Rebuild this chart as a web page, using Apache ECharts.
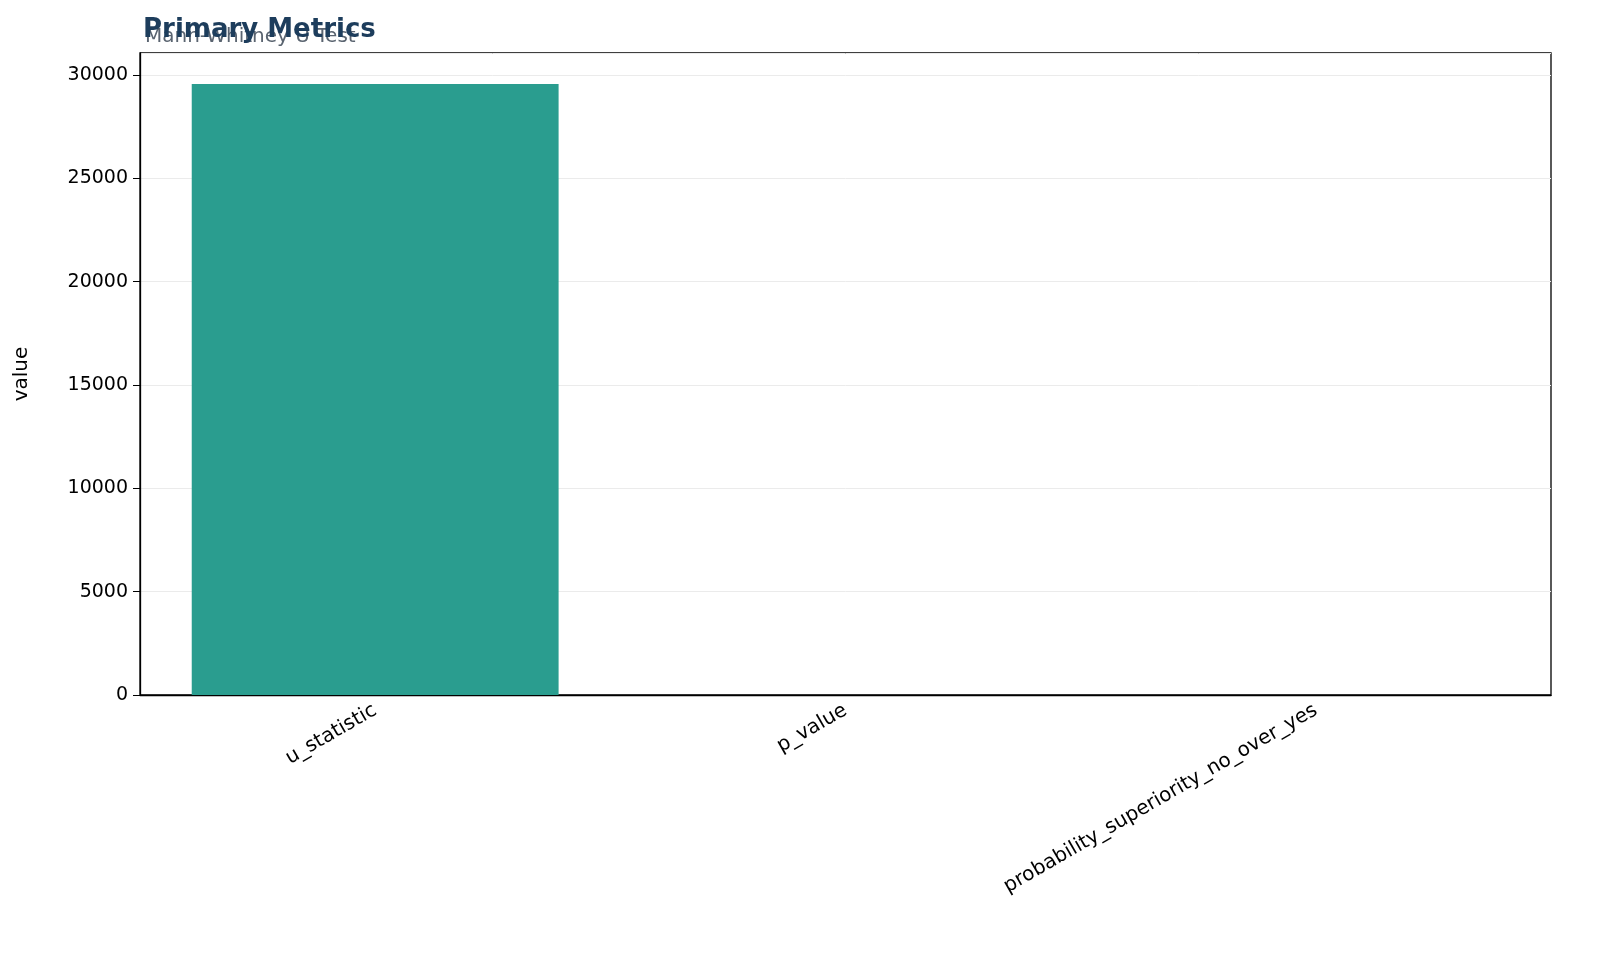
<!DOCTYPE html>
<html><head><meta charset="utf-8">
<script src="https://cdn.jsdelivr.net/npm/echarts@6/dist/echarts.min.js"></script>
<style>html,body{margin:0;padding:0;background:#fff}#c{width:1600px;height:978px}</style>
</head><body><div id="c"></div>
<script>
const categories = ["u_statistic", "p_value", "probability_superiority_no_over_yes"];
const values = [29570, 0.02, 0.55];
const chart = echarts.init(document.getElementById('c'));
chart.setOption({
  animation: false,
  title: [
    {text: 'Mann-Whitney U Test', left: 140, top: 22, textStyle: {fontFamily: 'DejaVu Sans', fontSize: 20, fontWeight: 'normal', color: '#5a6470'}},
    {text: 'Primary Metrics', left: 138, top: 12, textStyle: {fontFamily: 'DejaVu Sans', fontSize: 26, fontWeight: 'bold', color: '#1d3d5c'}}
  ],
  grid: {left: 140, right: 49, top: 53, bottom: 283, show: true, borderColor: '#000', borderWidth: 1.3, backgroundColor: 'transparent'},
  xAxis: {
    type: 'category', data: categories,
    axisLine: {lineStyle: {color: '#000', width: 1.3}},
    axisTick: {alignWithLabel: true, length: 7, lineStyle: {color: '#000'}},
    axisLabel: {rotate: 30, fontFamily: 'DejaVu Sans', fontSize: 20, color: '#000', margin: 14}
  },
  yAxis: {
    type: 'value', min: 0, max: 31065, interval: 5000,
    name: 'value', nameLocation: 'middle', nameGap: 108, nameTextStyle: {fontFamily: 'DejaVu Sans', fontSize: 20, color: '#000'},
    axisLine: {show: true, lineStyle: {color: '#000', width: 1.3}},
    axisTick: {show: true, length: 7, lineStyle: {color: '#000'}},
    axisLabel: {fontFamily: 'DejaVu Sans', fontSize: 19, color: '#000', margin: 12, showMaxLabel: false, formatter: v => String(v)},
    splitLine: {lineStyle: {color: '#ebebeb', width: 1}}
  },
  series: [{type: 'bar', data: values, barWidth: '78%', itemStyle: {color: '#2a9d8f'}}]
});
</script></body></html>
